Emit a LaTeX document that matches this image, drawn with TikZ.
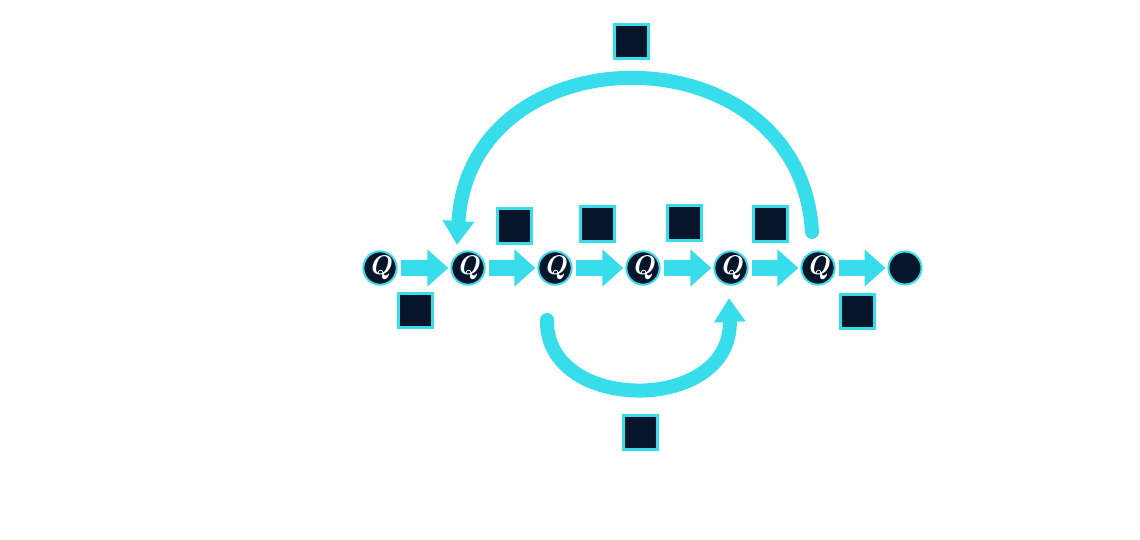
\documentclass[tikz,border=0pt]{standalone}
\usetikzlibrary{arrows.meta}
\definecolor{cy}{HTML}{38DDEB}
\definecolor{nv}{HTML}{061529}
\begin{document}
\begin{tikzpicture}[x=1pt,y=-1pt,
  qnode/.style={circle,fill=nv,draw=cy,line width=2pt,minimum size=32pt,inner sep=0pt,text=white,font=\fontsize{27}{27}\selectfont\bfseries\itshape},
  endnode/.style={circle,fill=nv,draw=cy,line width=2pt,minimum size=33pt,inner sep=0pt},
  sq/.style={rectangle,fill=nv,draw=cy,line width=3pt,minimum size=34pt,inner sep=0pt},
  blk/.style={draw=cy,line width=16pt,-{Triangle[length=21pt,width=36pt]},shorten <=3pt,shorten >=2pt},
  arc/.style={draw=cy,line width=14pt,line cap=round,-{Triangle[length=24pt,width=30pt]}}]
\useasboundingbox (0,0) rectangle (1140,540);
\node[qnode] (q1) at (380,268) {\raisebox{-1pt}{Q}};
\node[qnode] (q2) at (468,268) {\raisebox{-1pt}{Q}};
\node[qnode] (q3) at (555,268) {\raisebox{-1pt}{Q}};
\node[qnode] (q4) at (643,268) {\raisebox{-1pt}{Q}};
\node[qnode] (q5) at (731,268) {\raisebox{-1pt}{Q}};
\node[qnode] (q6) at (818,268) {\raisebox{-1pt}{Q}};
\node[endnode] (e) at (905,268) {};
\foreach \a/\b in {q1/q2,q2/q3,q3/q4,q4/q5,q5/q6,q6/e}
  \draw[blk] (\a) -- (\b);
\node[sq] (s1) at (415,310) {};
\node[sq] (s2) at (514,226) {};
\node[sq] (s3) at (597,224) {};
\node[sq] (s4) at (684,223) {};
\node[sq] (s5) at (770,224) {};
\node[sq] (s6) at (857,311) {};
\node[sq] (s7) at (631,42) {};
\node[sq] (s8) at (640,432) {};
\coordinate (a0) at (812,232);
\coordinate (a1) at (457,245);
\draw[arc] (a0) .. controls (800,28) and (470,28) .. (a1);
\coordinate (b0) at (547,320);
\coordinate (b1) at (729,298);
\draw[arc] (b0) .. controls (545,414) and (733,414) .. (b1);
\end{tikzpicture}
\end{document}
